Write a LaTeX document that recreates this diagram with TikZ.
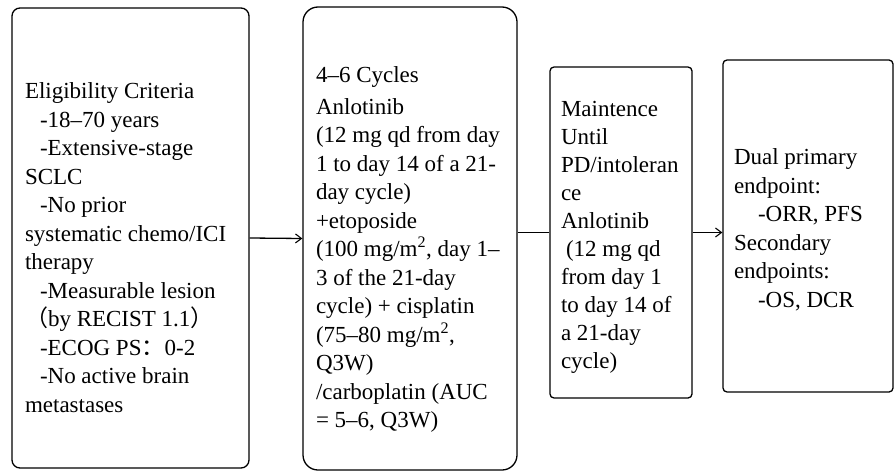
\documentclass[tikz,border=0pt]{standalone}
\usepackage{fontspec}
\setmainfont{Liberation Serif}
\newfontfamily\cjk{Noto Sans CJK SC}
\usetikzlibrary{positioning,arrows.meta}
\tikzset{
  stagebox/.style={draw,line width=1.3pt,align=flush left,inner xsep=12pt,inner ysep=0pt,
    font=\fontsize{23}{28.5}\selectfont},
  flowarr/.style={-{Straight Barb[length=6pt,width=9pt,line width=1.1pt]},line width=1.3pt},
  flowln/.style={line width=1.3pt},
}
\newcommand{\ind}[1][15pt]{\hspace*{#1}}
\newcommand{\topgap}[1]{\rule{0pt}{#1}}

\begin{document}
\begin{tikzpicture}[x=1pt,y=-1pt]
  \useasboundingbox (0,0) rectangle (896,471);
  % eligibility
  \node[stagebox,rounded corners=8pt,minimum width=237pt,minimum height=460pt,text width=211pt]
    (elig) at (130.5,238) {\topgap{35pt}Eligibility Criteria\\
    \ind-18--70 years\\
    \ind-Extensive-stage\\
    SCLC\\
    \ind-No prior\\
    systematic chemo/ICI\\
    therapy\\
    \ind-Measurable lesion\\
    {\cjk （}by RECIST 1.1{\cjk ）}\\
    \ind-ECOG PS{\cjk ：}0-2\\
    \ind-No active brain\\
    metastases};
  % induction
  \node[stagebox,rounded corners=15pt,minimum width=214pt,minimum height=463pt,text width=188pt]
    (induct) at (410,238.5) {\topgap{38pt}4--6 Cycles\\[3pt]
    Anlotinib\\
    (12 mg qd from day\\
    1 to day 14 of a 21-\\
    day cycle)\\
    +etoposide\\
    (100 mg/m\textsuperscript{2}, day 1--\\
    3 of the 21-day\\
    cycle) + cisplatin\\
    (75--80 mg/m\textsuperscript{2},\\
    Q3W)\\
    /carboplatin (AUC\\
    = 5--6, Q3W)};
  % maintenance
  \node[stagebox,rounded corners=4pt,inner xsep=11pt,minimum width=142pt,minimum height=331pt,text width=120pt,
    font=\fontsize{23}{28}\selectfont]
    (maint) at (621,232.5) {\topgap{25pt}Maintence\\
    Until\\
    PD/intoleran\\
    ce\\
    Anlotinib\\
    \ind[5pt](12 mg qd\\
    from day 1\\
    to day 14 of\\
    a 21-day\\
    cycle)};
  % endpoints
  \node[stagebox,rounded corners=4pt,inner xsep=11pt,minimum width=170pt,minimum height=332pt,text width=148pt]
    (endp) at (808,226) {\topgap{24pt}Dual primary\\
    endpoint:\\
    \ind[24pt]-ORR, PFS\\
    Secondary\\
    endpoints:\\
    \ind[24pt]-OS, DCR};

  \draw[flowarr] (elig.east) -- (induct.west);
  \draw[flowln] (induct.east |- maint.west) -- (maint.west);
  \draw[flowarr] (maint.east) -- (maint.east -| endp.west);
\end{tikzpicture}
\end{document}
